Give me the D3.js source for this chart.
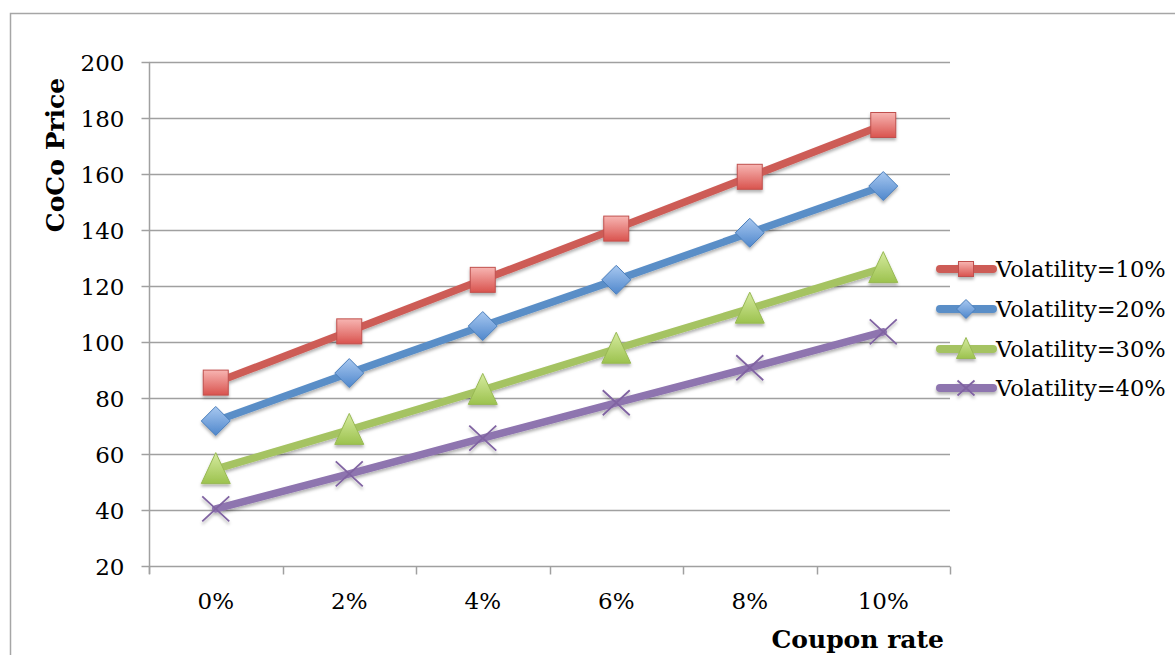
<!DOCTYPE html>
<html>
<head>
<meta charset="utf-8">
<script src="https://cdn.jsdelivr.net/npm/d3@7"></script>
<style>
  html, body { margin: 0; padding: 0; background: #fff; }
  svg { display: block; }
  text { font-family: "DejaVu Serif", "Liberation Serif", serif; fill: #000; }
</style>
</head>
<body>
<svg id="chart" width="1175" height="655"></svg>
<script>
// Coupon rate categories and CoCo prices for each volatility level
const couponRates = ["0%", "2%", "4%", "6%", "8%", "10%"];
const seriesNames = ["Volatility=10%", "Volatility=20%", "Volatility=30%", "Volatility=40%"];
const vol10 = [85.5, 103.8, 122.2, 140.5, 159.0, 177.5];
const vol20 = [71.8, 88.9, 105.7, 122.2, 139.0, 155.7];
const vol30 = [54.6, 68.6, 82.9, 97.6, 111.9, 126.4];
const vol40 = [40.4, 52.9, 65.7, 78.3, 90.8, 103.6];
const yTicks = [20, 40, 60, 80, 100, 120, 140, 160, 180, 200];

const seriesValues = [vol10, vol20, vol30, vol40];
const lineColors = ["#cd5c57", "#5a8ec7", "#a5c362", "#8e74af"];
const fillTop = ["#f7b5b2", "#a8c8f0", "#d6eba0", "#b9a4d4"];
const fillBottom = ["#d9534e", "#4f87cc", "#9cc24e", "#8064a2"];
const markerTypes = ["square", "diamond", "triangle", "cross"];

const svg = d3.select("#chart");
const defs = svg.append("defs");

// soft shadow under lines and markers
const shadow = defs.append("filter").attr("id", "shadow")
  .attr("x", "-20%").attr("y", "-20%").attr("width", "140%").attr("height", "160%");
shadow.append("feDropShadow").attr("dx", 0).attr("dy", 2.5).attr("stdDeviation", 1.6)
  .attr("flood-color", "#000").attr("flood-opacity", 0.3);

seriesNames.forEach((n, i) => {
  const g = defs.append("linearGradient").attr("id", "grad" + i)
    .attr("x1", 0).attr("y1", 0).attr("x2", 0).attr("y2", 1);
  g.append("stop").attr("offset", "0%").attr("stop-color", fillTop[i]);
  g.append("stop").attr("offset", "100%").attr("stop-color", fillBottom[i]);
});

// outer frame
svg.append("path")
  .attr("d", "M10.5,655 L10.5,13.5 L1175,13.5")
  .attr("fill", "none").attr("stroke", "#a6a6a6").attr("stroke-width", 1.5);

const plot = { left: 149, right: 950, top: 62, bottom: 566 };

const x = d3.scaleBand().domain(couponRates).range([plot.left, plot.right]);
const y = d3.scaleLinear().domain([20, 200]).range([plot.bottom, plot.top]);
const cx = d => x(d) + x.bandwidth() / 2;

const gridColor = "#a0a0a0";

// horizontal gridlines
svg.append("g").selectAll("line").data(yTicks.filter(t => t > 20)).join("line")
  .attr("x1", plot.left).attr("x2", plot.right)
  .attr("y1", d => Math.round(y(d)) + 0.5).attr("y2", d => Math.round(y(d)) + 0.5)
  .attr("stroke", gridColor).attr("stroke-width", 1.5);

// y axis
const yAxis = svg.append("g").attr("transform", `translate(${plot.left + 0.5},0)`)
  .call(d3.axisLeft(y).tickValues(yTicks).tickSize(8).tickPadding(17).tickSizeOuter(0));
yAxis.select(".domain").attr("stroke", gridColor).attr("stroke-width", 1.5)
  .attr("d", `M0,${plot.top}V${plot.bottom + 8}`);
yAxis.selectAll(".tick line").attr("stroke", gridColor).attr("stroke-width", 1.5);
yAxis.selectAll(".tick text").style("font-size", "23px").attr("font-family", null)
  .attr("dy", "0.36em");

// x axis
const xAxis = svg.append("g").attr("transform", `translate(0,${plot.bottom + 0.5})`)
  .call(d3.axisBottom(x).tickSize(0).tickPadding(26));
xAxis.select(".domain").attr("stroke", gridColor).attr("stroke-width", 1.5)
  .attr("d", `M${plot.left},0H${plot.right}`);
xAxis.selectAll(".tick text").style("font-size", "23px").attr("font-family", null);
// category boundary ticks
const bounds = couponRates.map(c => x(c)).concat([plot.right]);
xAxis.append("g").selectAll("line").data(bounds).join("line")
  .attr("x1", d => Math.round(d) + 0.5).attr("x2", d => Math.round(d) + 0.5)
  .attr("y1", 0).attr("y2", 8)
  .attr("stroke", gridColor).attr("stroke-width", 1.5);

// axis titles
svg.append("text")
  .attr("transform", "translate(64,155) rotate(-90)")
  .attr("text-anchor", "middle")
  .style("font-size", "25px").style("font-weight", "bold")
  .text("CoCo Price");
svg.append("text")
  .attr("x", 944).attr("y", 648).attr("text-anchor", "end")
  .style("font-size", "25px").style("font-weight", "bold")
  .text("Coupon rate");

// marker drawing
function drawMarker(sel, type, i, size) {
  const h = size / 2;
  if (type === "square") {
    sel.append("rect").attr("x", -h).attr("y", -h).attr("width", size).attr("height", size)
      .attr("fill", `url(#grad${i})`).attr("stroke", "#c0504d").attr("stroke-width", 1);
  } else if (type === "diamond") {
    sel.append("path").attr("d", `M0,${-h - 2}L${h + 2},0L0,${h + 2}L${-h - 2},0Z`)
      .attr("fill", `url(#grad${i})`).attr("stroke", "#4a7ebb").attr("stroke-width", 1);
  } else if (type === "triangle") {
    sel.append("path").attr("d", `M0,${-h - 4}L${h + 2},${h + 2}L${-h - 2},${h + 2}Z`)
      .attr("fill", `url(#grad${i})`).attr("stroke", "#98b954").attr("stroke-width", 1);
  } else {
    sel.append("path").attr("d", `M${-h - 1},${-h}L${h + 1},${h}M${-h - 1},${h}L${h + 1},${-h}`)
      .attr("fill", "none").attr("stroke", "#8064a2").attr("stroke-width", 1.8);
  }
}

const line = d3.line().x((d, j) => cx(couponRates[j])).y(d => y(d));

seriesValues.forEach((vals, i) => {
  const g = svg.append("g").attr("filter", "url(#shadow)");
  g.append("path").datum(vals).attr("d", line)
    .attr("fill", "none").attr("stroke", lineColors[i]).attr("stroke-width", 7.5)
    .attr("stroke-linejoin", "round").attr("stroke-linecap", "round");
  g.selectAll("g.m").data(vals).join("g").attr("class", "m")
    .attr("transform", (d, j) => `translate(${cx(couponRates[j])},${y(d)})`)
    .each(function () { drawMarker(d3.select(this), markerTypes[i], i, 25); });
});

// legend
const legendY = [269, 309, 349, 388];
seriesNames.forEach((name, i) => {
  const lg = svg.append("g").attr("transform", `translate(0,${legendY[i]})`);
  const sym = lg.append("g").attr("filter", "url(#shadow)");
  sym.append("line").attr("x1", 940).attr("x2", 993).attr("y1", 0).attr("y2", 0)
    .attr("stroke", lineColors[i]).attr("stroke-width", 8).attr("stroke-linecap", "round");
  const mk = sym.append("g").attr("transform", "translate(966,0)");
  drawMarker(mk, markerTypes[i], i, 15);
  lg.append("text").attr("x", 996).attr("y", 0).attr("dy", "0.35em")
    .style("font-size", "22.5px").text(name);
});
</script>
</body>
</html>
